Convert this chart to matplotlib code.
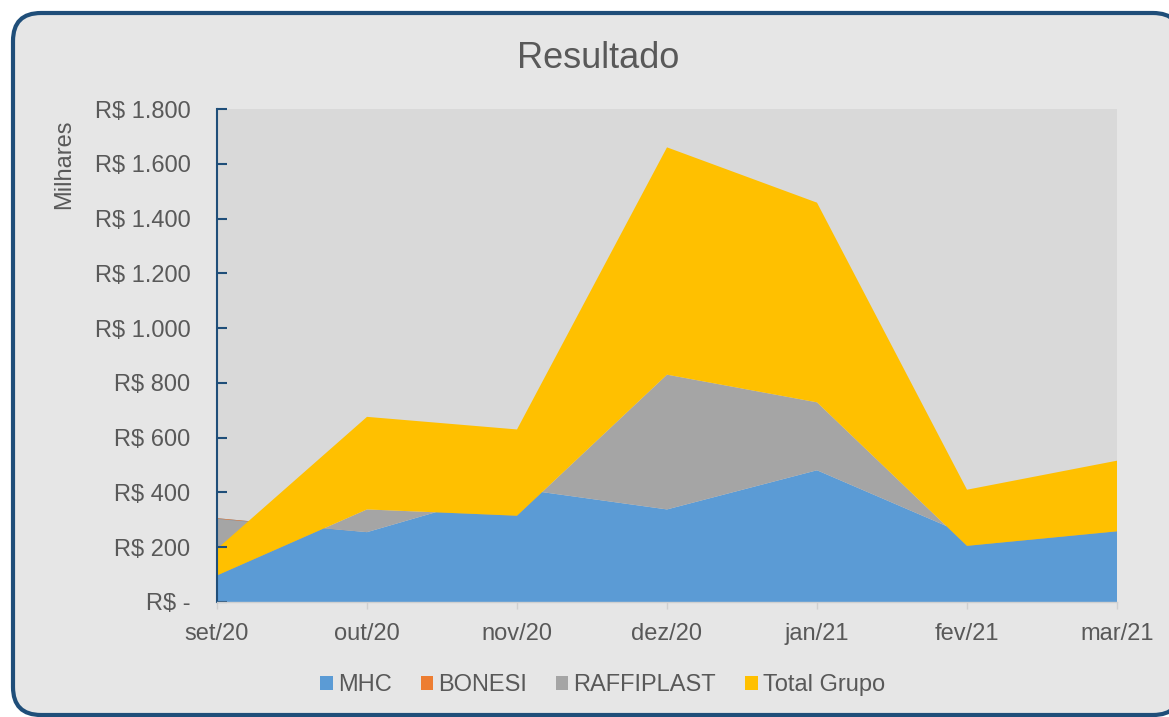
import numpy as np
import matplotlib
matplotlib.use('Agg')
import matplotlib.pyplot as plt
from matplotlib.patches import FancyBboxPatch
from matplotlib.ticker import FuncFormatter

plt.rcParams['font.family'] = ['Liberation Sans', 'DejaVu Sans']

# ---- data (R$ thousands) ----
months = ['set/20', 'out/20', 'nov/20', 'dez/20', 'jan/21', 'fev/21', 'mar/21']
mhc = [306, 255, 414, 338, 481, 245, 327]
bonesi = [-3, 0, 0, 0, 0, 0, 0]
raffiplast = [-206, 83, -99, 492, 248, -40, -69]
total_grupo = [97, 338, 315, 830, 729, 205, 258]
series_names = ['MHC', 'BONESI', 'RAFFIPLAST', 'Total Grupo']
colors = ['#5B9BD5', '#ED7D31', '#A5A5A5', '#FFC000']
y_ticks = [0, 200, 400, 600, 800, 1000, 1200, 1400, 1600, 1800]

W, H = 1169, 717
fig = plt.figure(figsize=(W / 100, H / 100), dpi=100)
fig.patch.set_facecolor('white')

# background rounded box
bg = fig.add_axes([0, 0, 1, 1], zorder=-10)
bg.set_xlim(0, W)
bg.set_ylim(H, 0)
bg.axis('off')
box = FancyBboxPatch((13, 13), 1181 - 13, 715 - 13,
                     boxstyle='round,pad=0,rounding_size=28',
                     fc='#E6E6E6', ec='#1F4E79', lw=3)
bg.add_patch(box)

# main axes
ax = fig.add_axes([217 / W, 1 - 602 / H, 900 / W, 493 / H])
ax.set_facecolor('#D9D9D9')
x = np.arange(len(months))
polys = ax.stackplot(x, mhc, bonesi, raffiplast, total_grupo,
                     colors=colors, labels=series_names, linewidth=0)
ax.set_xlim(0, len(months) - 1)
ax.set_ylim(0, 1800)
ax.set_xticks(x)
ax.set_xticklabels(months)
ax.set_yticks(y_ticks)


def fmt(v, pos):
    if v == 0:
        return 'R$ -'
    return 'R$ ' + f'{v:,.0f}'.replace(',', '.')


ax.yaxis.set_major_formatter(FuncFormatter(fmt))

for s in ['top', 'right']:
    ax.spines[s].set_visible(False)
ax.spines['left'].set_color('#1F4E79')
ax.spines['left'].set_linewidth(1.5)
ax.spines['bottom'].set_color('#D0D0D0')
ax.spines['bottom'].set_linewidth(1)

ax.tick_params(axis='y', direction='in', length=7, width=1.5, color='#1F4E79',
               labelcolor='#595959', labelsize=17, pad=19)
ax.tick_params(axis='x', direction='out', length=5, width=1, color='#D0D0D0',
               labelcolor='#595959', labelsize=17, pad=10)

# title and axis unit label
fig.text(598.5 / W, 1 - 67.5 / H, 'Resultado', ha='center', va='baseline',
         fontsize=26, color='#595959')
fig.text(64 / W, 1 - 164 / H, 'Milhares', ha='center', va='center',
         rotation=90, fontsize=17, color='#595959')

fig.legend(polys, series_names, loc='center',
           bbox_to_anchor=(602.5 / W, 1 - 685 / H), ncol=4, frameon=False,
           fontsize=17, handlelength=0.53, handleheight=0.53,
           handletextpad=0.21, columnspacing=1.23, labelcolor='#595959')

fig.savefig('out.png', dpi=100)
